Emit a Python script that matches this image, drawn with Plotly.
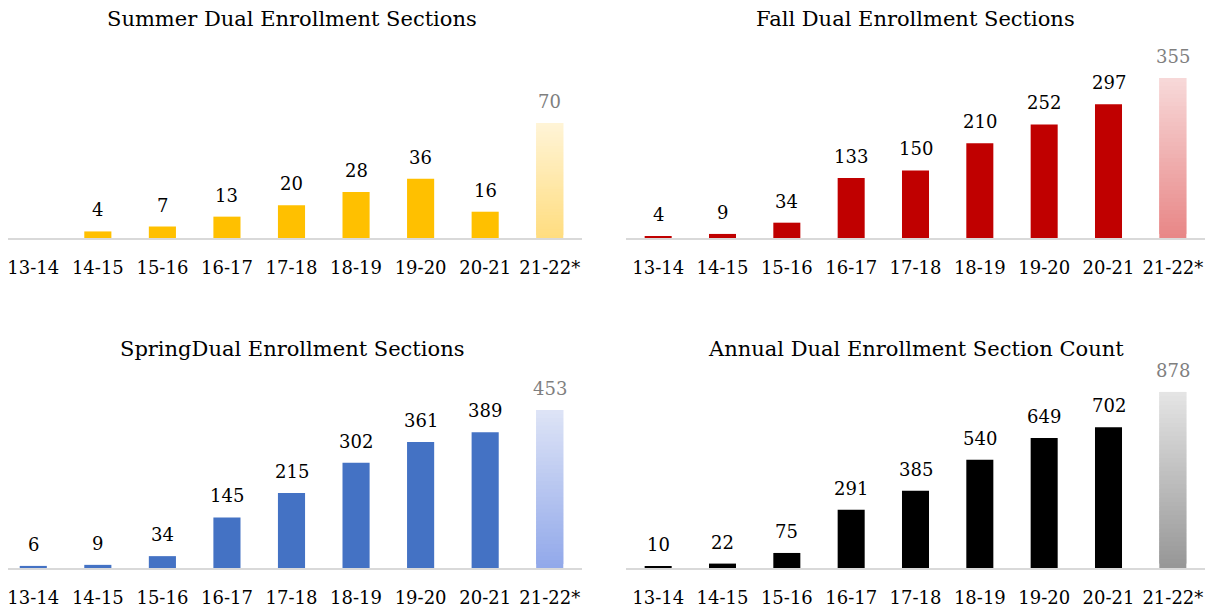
import plotly.graph_objects as go

categories = ["13-14", "14-15", "15-16", "16-17", "17-18", "18-19", "19-20", "20-21", "21-22*"]
summer = [None, 4, 7, 13, 20, 28, 36, 16, 70]
fall = [4, 9, 34, 133, 150, 210, 252, 297, 355]
spring = [6, 9, 34, 145, 215, 302, 361, 389, 453]
annual = [10, 22, 75, 291, 385, 540, 649, 702, 878]

titles = ["Summer Dual Enrollment Sections", "Fall Dual Enrollment Sections",
          "SpringDual Enrollment Sections", "Annual Dual Enrollment Section Count"]

# the page body has an 8px margin, so the figure is placed at (8, 8)
OFF = 8
W, H = 1214 - OFF, 607 - OFF
FONT = "DejaVu Serif"

def hexrgb(h):
    h = h.lstrip("#")
    return tuple(int(h[i:i + 2], 16) for i in (0, 2, 4))

def grad(top, bottom, n):
    a, b = hexrgb(top), hexrgb(bottom)
    cols = []
    for k in range(n):
        t = k / (n - 1)
        c = tuple(round(b[i] + (a[i] - b[i]) * t) for i in range(3))
        cols.append("rgb(%d,%d,%d)" % c)
    return cols

panels = [
    dict(vals=summer, color="#FFC000", gtop="#FFF4D6", gbot="#FFDD80",
         x0=1, x1=582, base=238, top=40, scale=1.643, title_y=19),
    dict(vals=fall, color="#C00000", gtop="#F7D8D8", gbot="#E88787",
         x0=626, x1=1205, base=238, top=40, scale=0.4507, title_y=19),
    dict(vals=spring, color="#4472C4", gtop="#DDE3F6", gbot="#92A9EA",
         x0=1, x1=582, base=568, top=370, scale=0.3488, title_y=349),
    dict(vals=annual, color="#000000", gtop="#E4E4E4", gbot="#979797",
         x0=626, x1=1205, base=568, top=370, scale=0.2005, title_y=349),
]

def px(x):
    return (x - OFF) / W

def py(y):
    return 1 - (y - OFF) / H

fig = go.Figure()
annotations = []
N = 40
for i, p in enumerate(panels):
    xa = "x" if i == 0 else "x%d" % (i + 1)
    ya = "y" if i == 0 else "y%d" % (i + 1)
    vals = p["vals"]
    last = vals[-1]
    # projected year drawn as a vertical gradient of thin stacked segments;
    # each segment overlaps the next one so no seams show
    seg = last / N
    cols = grad(p["gtop"], p["gbot"], N)
    heights = [seg * 2] * (N - 1) + [seg]
    fig.add_trace(go.Bar(
        x=[categories[-1]] * N, y=heights, base=[seg * k for k in range(N)],
        marker=dict(color=cols, line=dict(width=0)),
        width=0.42, xaxis=xa, yaxis=ya, showlegend=False, hoverinfo="skip"))
    fig.add_trace(go.Bar(
        x=categories[:-1], y=vals[:-1], marker=dict(color=p["color"], line=dict(width=0)),
        width=0.42, xaxis=xa, yaxis=ya, showlegend=False))
    for c, v in zip(categories, vals):
        if v is None:
            continue
        annotations.append(dict(
            x=c, y=v, xref=xa, yref=ya, text=str(v), showarrow=False,
            yanchor="bottom", yshift=9,
            font=dict(family=FONT, size=18, color="#7F7F7F" if c == categories[-1] else "#000000")))
    yrange = (p["base"] - p["top"]) / p["scale"]
    dom_x = [max(0, px(p["x0"])), min(1, px(p["x1"]))]
    dom_y = [py(p["base"]), py(p["top"])]
    key = "" if i == 0 else str(i + 1)
    fig.update_layout(**{
        "xaxis" + key: dict(domain=dom_x, anchor=ya, type="category",
                            categoryorder="array", categoryarray=categories,
                            range=[-0.5 + (dom_x[0] * W - (p["x0"] - OFF)) / ((p["x1"] - p["x0"]) / 9), 8.5],
                            showline=True, linecolor="#D9D9D9",
                            linewidth=2, showgrid=False, zeroline=False,
                            ticks="outside", ticklen=12, tickcolor="rgba(0,0,0,0)",
                            tickfont=dict(family=FONT, size=18, color="#000000"),
                            fixedrange=True),
        "yaxis" + key: dict(domain=dom_y, anchor=xa, range=[0, yrange], visible=False,
                            showgrid=False, zeroline=False, fixedrange=True),
    })
    annotations.append(dict(
        x=px((p["x0"] + p["x1"]) / 2), y=py(p["title_y"]), xref="paper", yref="paper",
        text=titles[i], showarrow=False, xanchor="center", yanchor="middle",
        font=dict(family=FONT, size=21, color="#000000")))

fig.update_layout(
    width=W, height=H, margin=dict(l=0, r=0, t=0, b=0),
    paper_bgcolor="white", plot_bgcolor="white",
    barmode="overlay", annotations=annotations, showlegend=False,
)

fig.write_html("out.html")
